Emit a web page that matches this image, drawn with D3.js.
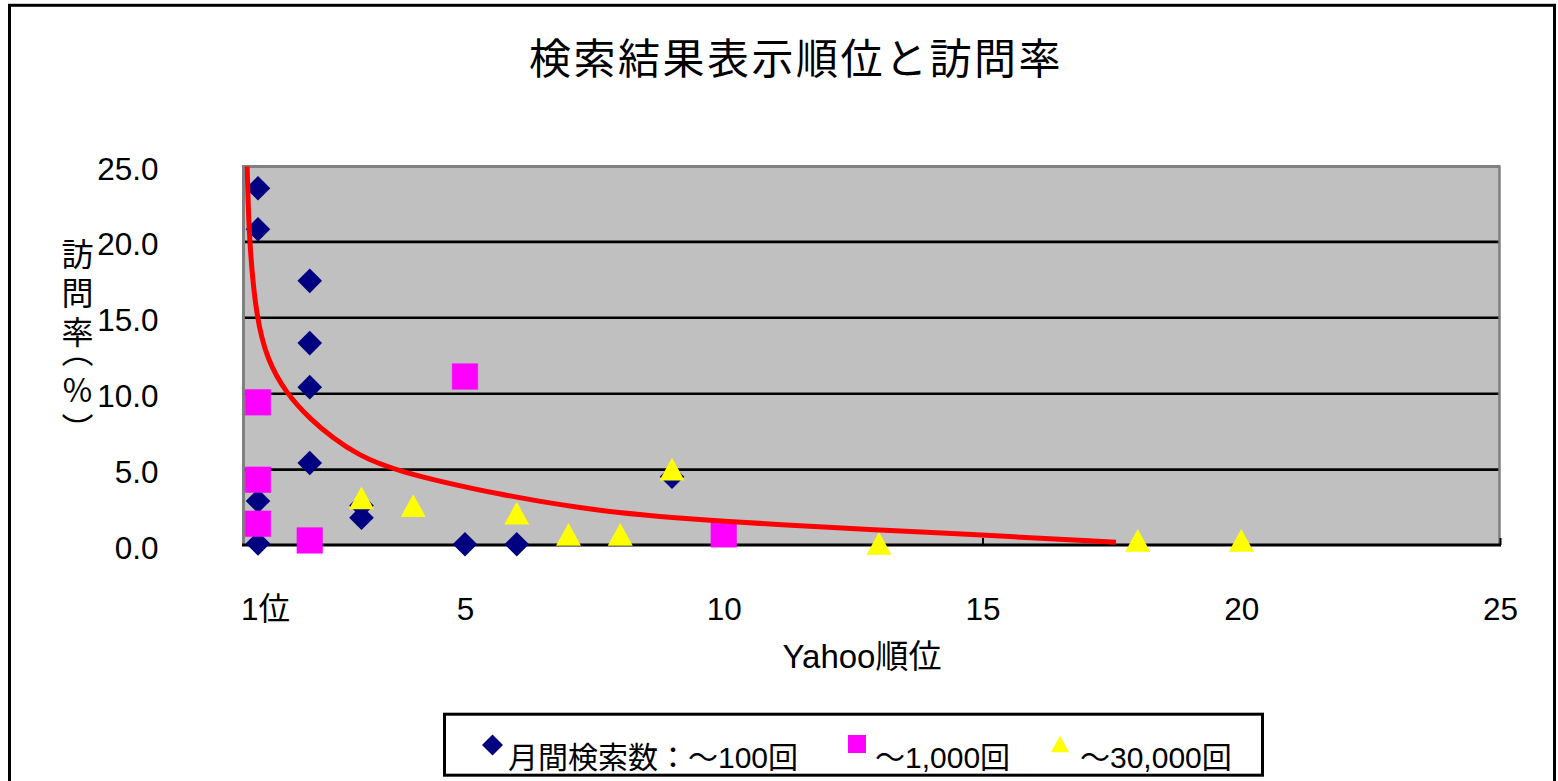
<!DOCTYPE html>
<html>
<head>
<meta charset="utf-8">
<script src="https://cdn.jsdelivr.net/npm/d3@7"></script>
<style>
  html, body { margin: 0; padding: 0; background: #fff; }
  svg { display: block; font-family: "Liberation Sans", Arial, "Noto Sans CJK JP", sans-serif; }
</style>
</head>
<body>
<svg id="chart" width="1558" height="781"></svg>
<script>
// Search rank (Yahoo) vs. visit rate (%), grouped by monthly search volume
const titleText = "検索結果表示順位と訪問率";
const xTitle = "Yahoo順位";
const yTitleMain = "訪問率";
const yTitleUnit = "（%）";

const seriesNames = ["月間検索数：～100回", "～1,000回", "～30,000回"];

// series 1: up to 100 searches / month
const rankLow = [1, 1, 1, 1, 2, 2, 2, 2, 3, 3, 5, 6, 9];
const rateLow = [23.5, 20.8, 2.9, 0.1, 17.4, 13.3, 10.4, 5.4, 2.6, 1.8, 0.05, 0.05, 4.5];

// series 2: up to 1,000 searches / month
const rankMid = [1, 1, 1, 2, 5, 10];
const rateMid = [9.4, 4.3, 1.4, 0.3, 11.1, 0.7];

// series 3: up to 30,000 searches / month
const rankHigh = [3, 4, 6, 7, 8, 9, 13, 18, 20];
const rateHigh = [3.1, 2.6, 2.1, 0.7, 0.7, 5.0, 0.1, 0.3, 0.3];

// fitted curve (red)
const curveRank = [0.778, 0.793, 0.826, 0.967, 1.18, 1.541, 2.005, 2.449, 2.907, 3.615, 5.677, 7.609, 10.0, 12.98, 14.97, 17.58];
const curveRate = [25.7, 24.92, 20.09, 14.93, 12.19, 10.01, 8.30, 7.05, 5.99, 4.89, 3.29, 2.19, 1.53, 0.99, 0.66, 0.18];

const xTicks = [1, 5, 10, 15, 20, 25];
const yTicks = [0, 5, 10, 15, 20, 25];
const yGrid = [5, 10, 15, 20];

const svg = d3.select("#chart");
const W = 1558, H = 781;
const plot = { left: 243.5, right: 1500, top: 165.5, bottom: 545 };

const x = d3.scaleLinear().domain([0.72, 25]).range([plot.left, plot.right]);
const y = d3.scaleLinear().domain([0, 25]).range([plot.bottom, plot.top]);

svg.append("rect").attr("width", W).attr("height", H).attr("fill", "#fff");

// chart frame
svg.append("rect")
  .attr("x", 9.5).attr("y", 5.3).attr("width", 1545).attr("height", 820)
  .attr("fill", "none").attr("stroke", "#000").attr("stroke-width", 3);

// title
svg.append("text")
  .attr("x", 796).attr("y", 74)
  .attr("text-anchor", "middle")
  .attr("font-size", 42).attr("letter-spacing", "2.5px")
  .attr("font-family", "'Noto Sans CJK JP', sans-serif")
  .attr("fill", "#000")
  .text(titleText);

// plot background
svg.append("rect")
  .attr("x", plot.left).attr("y", plot.top)
  .attr("width", plot.right - plot.left).attr("height", plot.bottom - plot.top)
  .attr("fill", "#c0c0c0");

// horizontal gridlines
svg.append("g")
  .attr("transform", `translate(${plot.left},0)`)
  .call(d3.axisLeft(y).tickValues(yGrid).tickSize(-(plot.right - plot.left)).tickFormat(""))
  .call(g => g.select(".domain").remove())
  .call(g => g.selectAll(".tick line").attr("stroke", "#000").attr("stroke-width", 2.6));

// plot border: gray top / left / right, black baseline
svg.append("line").attr("x1", plot.left).attr("x2", plot.right).attr("y1", plot.top + 1).attr("y2", plot.top + 1)
  .attr("stroke", "#808080").attr("stroke-width", 3);
svg.append("line").attr("x1", plot.right - 0.5).attr("x2", plot.right - 0.5).attr("y1", plot.top).attr("y2", plot.bottom)
  .attr("stroke", "#808080").attr("stroke-width", 2.5);
svg.append("line").attr("x1", plot.left).attr("x2", plot.left).attr("y1", plot.top - 0.5).attr("y2", plot.bottom)
  .attr("stroke", "#808080").attr("stroke-width", 3);
svg.append("line").attr("x1", plot.left - 1.5).attr("x2", plot.right + 1).attr("y1", plot.bottom).attr("y2", plot.bottom)
  .attr("stroke", "#000").attr("stroke-width", 3);

// x axis: inner tick marks and labels
const xAxis = svg.append("g")
  .attr("transform", `translate(0,${plot.bottom})`)
  .call(d3.axisBottom(x).tickValues(xTicks).tickSize(-7).tickPadding(60)
    .tickFormat(d => d === 1 ? "1位" : String(d)));
xAxis.select(".domain").remove();
xAxis.selectAll(".tick line").attr("stroke", "#000").attr("stroke-width", 2);
xAxis.selectAll(".tick text")
  .attr("font-size", 31.5).attr("fill", "#000")
  .attr("font-family", "'Liberation Sans', Arial, 'Noto Sans CJK JP', sans-serif")
  .attr("dy", "0.71em").attr("y", 53);
xAxis.selectAll(".tick").filter(d => d === 1).select("text").attr("x", 7);

// y axis labels
const yAxis = svg.append("g")
  .attr("transform", `translate(${plot.left},0)`)
  .call(d3.axisLeft(y).tickValues(yTicks).tickSize(0).tickPadding(85).tickFormat(d3.format(".1f")));
yAxis.select(".domain").remove();
yAxis.selectAll(".tick text")
  .attr("font-size", 31.5).attr("fill", "#000")
  .attr("y", 3.5);

// axis titles
svg.append("text")
  .attr("x", 862).attr("y", 668)
  .attr("text-anchor", "middle").attr("font-size", 33).attr("fill", "#000")
  .text(xTitle);

// vertical y title (stacked glyphs)
const yTitle = svg.append("text")
  .attr("x", 77.5).attr("y", 238)
  .attr("fill", "#000")
  .attr("font-size", 32)
  .attr("font-family", "'Noto Sans CJK JP', sans-serif")
  .style("writing-mode", "vertical-rl")
  .style("text-orientation", "upright")
  .style("letter-spacing", "7px");
yTitle.append("tspan").text(yTitleMain);
yTitle.append("tspan").attr("dy", -20).text(yTitleUnit);

// marker shapes
const diamondType = {
  draw(ctx, size) {
    const r = size;
    ctx.moveTo(0, -r); ctx.lineTo(r, 0); ctx.lineTo(0, r); ctx.lineTo(-r, 0); ctx.closePath();
  }
};
const squareType = {
  draw(ctx, size) {
    const r = size;
    ctx.rect(-r, -r, 2 * r, 2 * r);
  }
};
const triangleType = {
  draw(ctx, size) {
    const w = size, h = size * 0.91;
    ctx.moveTo(0, -h); ctx.lineTo(w, h); ctx.lineTo(-w, h); ctx.closePath();
  }
};

const clipId = "plot-clip";
svg.append("clipPath").attr("id", clipId)
  .append("rect")
  .attr("x", plot.left + 1).attr("y", plot.top + 1)
  .attr("width", plot.right - plot.left - 2).attr("height", plot.bottom - plot.top);

const marks = svg.append("g");

const lowData = rankLow.map((r, i) => ({ r, v: rateLow[i] }));
const midData = rankMid.map((r, i) => ({ r, v: rateMid[i] }));
const highData = rankHigh.map((r, i) => ({ r, v: rateHigh[i] }));

marks.selectAll("path.low").data(lowData).join("path")
  .attr("class", "low")
  .attr("d", d3.symbol(diamondType, 12.3))
  .attr("transform", d => `translate(${x(d.r)},${y(d.v)})`)
  .attr("fill", "#000080");

marks.selectAll("path.mid").data(midData).join("path")
  .attr("class", "mid")
  .attr("d", d3.symbol(squareType, 12.8))
  .attr("transform", d => `translate(${x(d.r)},${y(d.v)})`)
  .attr("fill", "#ff00ff")
  .attr("stroke", "#ff00ff").attr("stroke-width", 0.5).attr("stroke-linejoin", "round");

marks.selectAll("path.high").data(highData).join("path")
  .attr("class", "high")
  .attr("d", d3.symbol(triangleType, 12.5))
  .attr("transform", d => `translate(${x(d.r)},${y(d.v)})`)
  .attr("fill", "#ffff00");

// red fitted curve
const curveData = curveRank.map((r, i) => ({ r, v: curveRate[i] }));
svg.append("path")
  .datum(curveData)
  .attr("clip-path", `url(#${clipId})`)
  .attr("d", d3.line().x(d => x(d.r)).y(d => y(d.v)).curve(d3.curveBasis))
  .attr("fill", "none").attr("stroke", "#ff0000").attr("stroke-width", 5);

// legend
const legend = svg.append("g");
legend.append("rect")
  .attr("x", 444.5).attr("y", 714.2).attr("width", 818).attr("height", 61)
  .attr("fill", "#fff").attr("stroke", "#000").attr("stroke-width", 3);

const legendItems = [
  { type: diamondType, size: 10.5, color: "#000080", mx: 492.5, my: 745, tx: 508 },
  { type: squareType, size: 9, color: "#ff00ff", mx: 857, my: 744, tx: 875 },
  { type: triangleType, size: 9, color: "#ffff00", mx: 1060, my: 744, tx: 1080 }
];
legendItems.forEach((it, i) => {
  legend.append("path")
    .attr("d", d3.symbol(it.type, it.size))
    .attr("transform", `translate(${it.mx},${it.my})`)
    .attr("fill", it.color);
  legend.append("text")
    .attr("x", it.tx).attr("y", 768)
    .attr("font-size", 30).attr("fill", "#000")
    .text(seriesNames[i]);
});
</script>
</body>
</html>
